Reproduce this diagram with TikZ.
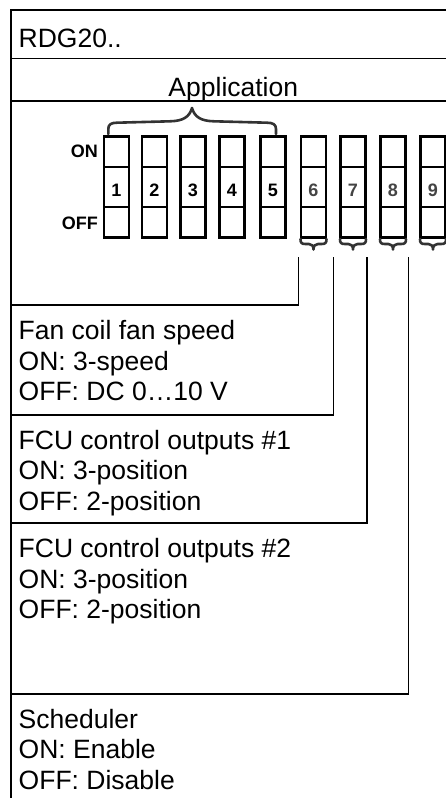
\documentclass[tikz,border=0pt]{standalone}
\usepackage{fontspec}
\setmainfont{Liberation Sans}
\definecolor{bracegray}{HTML}{333333}
\definecolor{numgray}{HTML}{444444}
\begin{document}
\begin{tikzpicture}[x=1pt,y=-1pt,
  frameline/.style={line width=1.1pt, black},
  conn/.style={line width=1.1pt, black},
  swbox/.style={draw, line width=2.4pt, minimum width=25pt, minimum height=101pt, inner sep=0pt, outer sep=0pt},
  swdiv/.style={line width=1.8pt},
  bracestyle/.style={line width=2.6pt, bracegray, line cap=round, line join=round},
  bigtext/.style={font=\fontsize{26.5}{31}\selectfont, inner sep=0pt, anchor=base west},
  boldlbl/.style={font=\fontsize{18}{20}\selectfont\bfseries, inner sep=0pt},
]
\useasboundingbox (0,0) rectangle (446,798);

% frame
\draw[frameline] (470,10) -- (11,10) -- (11,810);
\draw[frameline] (11,58.3) -- (470,58.3);
\draw[frameline] (11,101) -- (470,101);

% header texts
\node[bigtext] (title) at (18.5,47.7) {RDG20..};
\node[bigtext, anchor=base] (app) at (233.3,96.7) {Application};

% switches
\foreach \i/\L in {1/104,2/142,3/180.5,4/219.5,5/260.5,6/301,7/340.5,8/380.5,9/420.5}{
  \node[swbox] (sw\i) at (\L+12.5,187) {};
  \draw[swdiv] (\L,167) -- (\L+25,167);
  \draw[swdiv] (\L,207) -- (\L+25,207);
}
\foreach \i/\L in {1/104,2/142,3/180.5,4/219.5,5/260.5}{
  \node[boldlbl, anchor=base] (n\i) at (\L+12.5,196.5) {\i};
}
\foreach \i/\L in {6/301,7/340.5,8/380.5,9/420.5}{
  \node[boldlbl, anchor=base, text=numgray] (n\i) at (\L+12.5,196.5) {\i};
}
\node[boldlbl, anchor=base east] (onlbl) at (98,157.6) {ON};
\node[boldlbl, anchor=base east] (offlbl) at (98,229.6) {OFF};

% big brace over 1-5
\draw[bracestyle] (108.3,134) -- (108.3,129)
  .. controls (108.3,124.5) and (111,122.7) .. (117,122.7)
  -- (170,121.3)
  .. controls (183,121) and (189.5,117) .. (192,108)
  .. controls (194.5,117) and (201,121) .. (214,121.3)
  -- (267,122.7)
  .. controls (273,122.7) and (276,124.5) .. (276,129)
  -- (276,134);

% small braces under 6-9
\foreach \c in {313.5,353,393,433}{
  \draw[bracestyle] (\c-13,239)
    .. controls (\c-13,242.8) and (\c-12,244) .. (\c-8,244)
    -- (\c-4.5,244)
    .. controls (\c-1.5,244) and (\c,246) .. (\c,249.5)
    .. controls (\c,246) and (\c+1.5,244) .. (\c+4.5,244)
    -- (\c+8,244)
    .. controls (\c+12,244) and (\c+13,242.8) .. (\c+13,239);
}

% connectors
\coordinate (t6) at (298.5,257);
\coordinate (t7) at (333.3,257);
\coordinate (t8) at (367,257);
\coordinate (t9) at (408.5,257);
\coordinate (e6) at (11,305);
\coordinate (e7) at (11,415);
\coordinate (e8) at (11,523);
\coordinate (e9) at (11,694);
\draw[conn] (t6) |- (e6);
\draw[conn] (t7) |- (e7);
\draw[conn] (t8) |- (e8);
\draw[conn] (t9) |- (e9);

% description texts
\node[bigtext] (fan1) at (18.5,339.3) {Fan coil fan speed};
\node[bigtext] (fan2) at (18.5,370.1) {ON: 3-speed};
\node[bigtext] (fan3) at (18.5,400.9) {OFF: DC 0…10 V};

\node[bigtext] (fcua1) at (18.5,449) {FCU control outputs \#1};
\node[bigtext] (fcua2) at (18.5,479.8) {ON: 3-position};
\node[bigtext] (fcua3) at (18.5,510.6) {OFF: 2-position};

\node[bigtext] (fcub1) at (18.5,557.3) {FCU control outputs \#2};
\node[bigtext] (fcub2) at (18.5,588.1) {ON: 3-position};
\node[bigtext] (fcub3) at (18.5,618.9) {OFF: 2-position};

\node[bigtext] (sch1) at (18.5,728) {Scheduler};
\node[bigtext] (sch2) at (18.5,758.5) {ON: Enable};
\node[bigtext] (sch3) at (18.5,789) {OFF: Disable};
\end{tikzpicture}
\end{document}
